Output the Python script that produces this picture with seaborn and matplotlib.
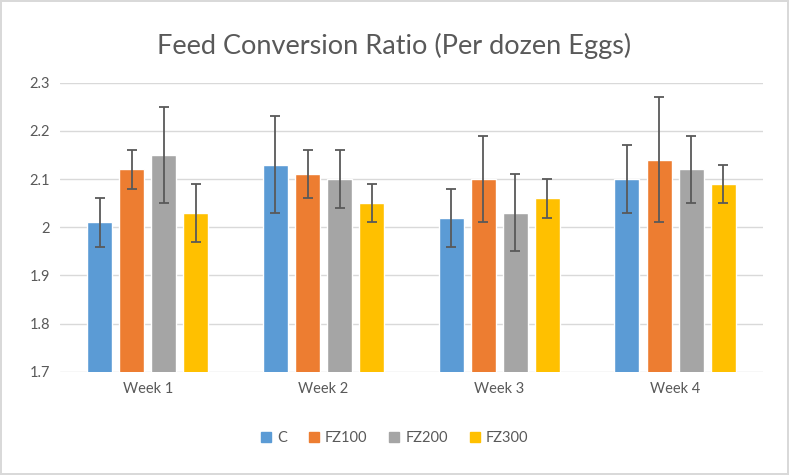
import pandas as pd
import numpy as np
import matplotlib
matplotlib.use("Agg")
import matplotlib.pyplot as plt
import seaborn as sns

# ---- data ----
weeks = ["Week 1", "Week 2", "Week 3", "Week 4"]
groups = ["C", "FZ100", "FZ200", "FZ300"]
fcr_c = [2.01, 2.13, 2.02, 2.10]
fcr_fz100 = [2.12, 2.11, 2.10, 2.14]
fcr_fz200 = [2.15, 2.10, 2.03, 2.12]
fcr_fz300 = [2.03, 2.05, 2.06, 2.09]
err_c = [0.05, 0.10, 0.06, 0.07]
err_fz100 = [0.04, 0.05, 0.09, 0.13]
err_fz200 = [0.10, 0.06, 0.08, 0.07]
err_fz300 = [0.06, 0.04, 0.04, 0.04]
y_ticks = [1.7, 1.8, 1.9, 2.0, 2.1, 2.2, 2.3]
y_tick_labels = ["1.7", "1.8", "1.9", "2", "2.1", "2.2", "2.3"]

colors = ["#5B9BD5", "#ED7D31", "#A5A5A5", "#FFC000"]
text_col = "#595959"

rows = []
for g, vals, errs in zip(groups,
                         [fcr_c, fcr_fz100, fcr_fz200, fcr_fz300],
                         [err_c, err_fz100, err_fz200, err_fz300]):
    for w, v, e in zip(weeks, vals, errs):
        rows.append({"week": w, "group": g, "fcr": v, "err": e})
df = pd.DataFrame(rows)

sns.set_style("white")
plt.rcParams["font.family"] = ["Lato", "DejaVu Sans"]

fig = plt.figure(figsize=(7.89, 4.75), dpi=100)
ax = fig.add_axes([0.076, 0.217, 0.891, 0.609])

sns.barplot(data=df, x="week", y="fcr", hue="group", order=weeks,
            hue_order=groups, palette=colors, width=0.73, gap=0.22,
            errorbar=None, ax=ax, saturation=1, legend=True)

# error bars on top of each bar, using the bar positions from seaborn
for cont, g in zip(ax.containers, groups):
    sub = df[df.group == g].set_index("week").loc[weeks]
    xs = [p.get_x() + p.get_width() / 2 for p in cont.patches]
    ax.errorbar(xs, sub["fcr"], yerr=sub["err"], fmt="none",
                ecolor=text_col, elinewidth=1.3, capsize=3.5, capthick=1.3,
                zorder=5)

ax.set_ylim(1.7, 2.3)
ax.set_yticks(y_ticks)
ax.set_yticklabels(y_tick_labels)
ax.set_xlim(-0.5, 3.5)
ax.grid(axis="y", color="#d9d9d9", linewidth=1)
ax.set_axisbelow(True)
for s in ax.spines.values():
    s.set_visible(False)
ax.tick_params(axis="both", length=0, labelsize=10.5, colors=text_col, pad=7)
ax.set_xlabel("")
ax.set_ylabel("")

ax.legend_.remove()
handles = [plt.Rectangle((0, 0), 1, 1, color=c) for c in colors]
fig.legend(handles, groups, loc="center", bbox_to_anchor=(0.5, 0.077),
           ncol=4, frameon=False, fontsize=10.5, handlelength=0.7,
           handleheight=0.7, handletextpad=0.4, columnspacing=1.5,
           labelcolor=text_col)

fig.suptitle("Feed Conversion Ratio (Per dozen Eggs)", x=0.5, y=0.93,
             fontsize=19.5, color=text_col)

fig.patch.set_edgecolor("#d9d9d9")
fig.patch.set_linewidth(1.5)

fig.savefig("out.png", dpi=100, edgecolor=fig.get_edgecolor())
